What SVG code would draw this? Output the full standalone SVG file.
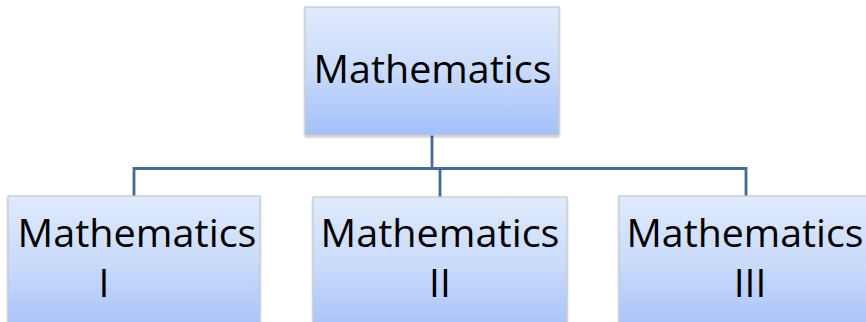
<svg xmlns="http://www.w3.org/2000/svg" width="866" height="322" viewBox="0 0 866 322">
<style>
.box{fill:url(#g);stroke:#c3c7cf;stroke-width:1.2}
.t{font-family:"Open Sans","Liberation Sans",sans-serif;font-size:39px;fill:#000}
.c{fill:none;stroke:#45699a;stroke-width:2.8}
</style>
<defs>
<linearGradient id="g" x1="0" y1="0" x2="0" y2="1">
<stop offset="0" stop-color="#e0eafc"/>
<stop offset="0.5" stop-color="#c9dafb"/>
<stop offset="1" stop-color="#a3c0fb"/>
</linearGradient>
<filter id="sh" x="-5%" y="-5%" width="110%" height="115%">
<feDropShadow dx="0" dy="1.5" stdDeviation="1.2" flood-color="#000" flood-opacity="0.25"/>
</filter>
</defs>
<g id="connectors">
<path class="c" d="M432 135V168.5"/>
<path class="c" d="M134 196V168.5H746V196"/>
<path class="c" d="M440 168.5V197"/>
</g>
<g id="root">
<rect class="box" filter="url(#sh)" x="305" y="7" width="254" height="128"/>
<text class="t" x="432.5" y="83" text-anchor="middle" textLength="238" lengthAdjust="spacingAndGlyphs">Mathematics</text>
</g>
<g id="m1">
<rect class="box" filter="url(#sh)" x="8" y="196" width="252" height="140"/>
<text class="t" x="137" y="247" text-anchor="middle" textLength="239" lengthAdjust="spacingAndGlyphs">Mathematics</text>
<text class="t" x="104" y="297" text-anchor="middle">I</text>
</g>
<g id="m2">
<rect class="box" filter="url(#sh)" x="313" y="197" width="254" height="140"/>
<text class="t" x="440" y="247" text-anchor="middle" textLength="239" lengthAdjust="spacingAndGlyphs">Mathematics</text>
<text class="t" x="440" y="297" text-anchor="middle">II</text>
</g>
<g id="m3">
<rect class="box" filter="url(#sh)" x="619" y="196" width="254" height="140"/>
<text class="t" x="745" y="247" text-anchor="middle" textLength="237" lengthAdjust="spacingAndGlyphs">Mathematics</text>
<text class="t" x="750" y="297" text-anchor="middle">III</text>
</g>
</svg>
